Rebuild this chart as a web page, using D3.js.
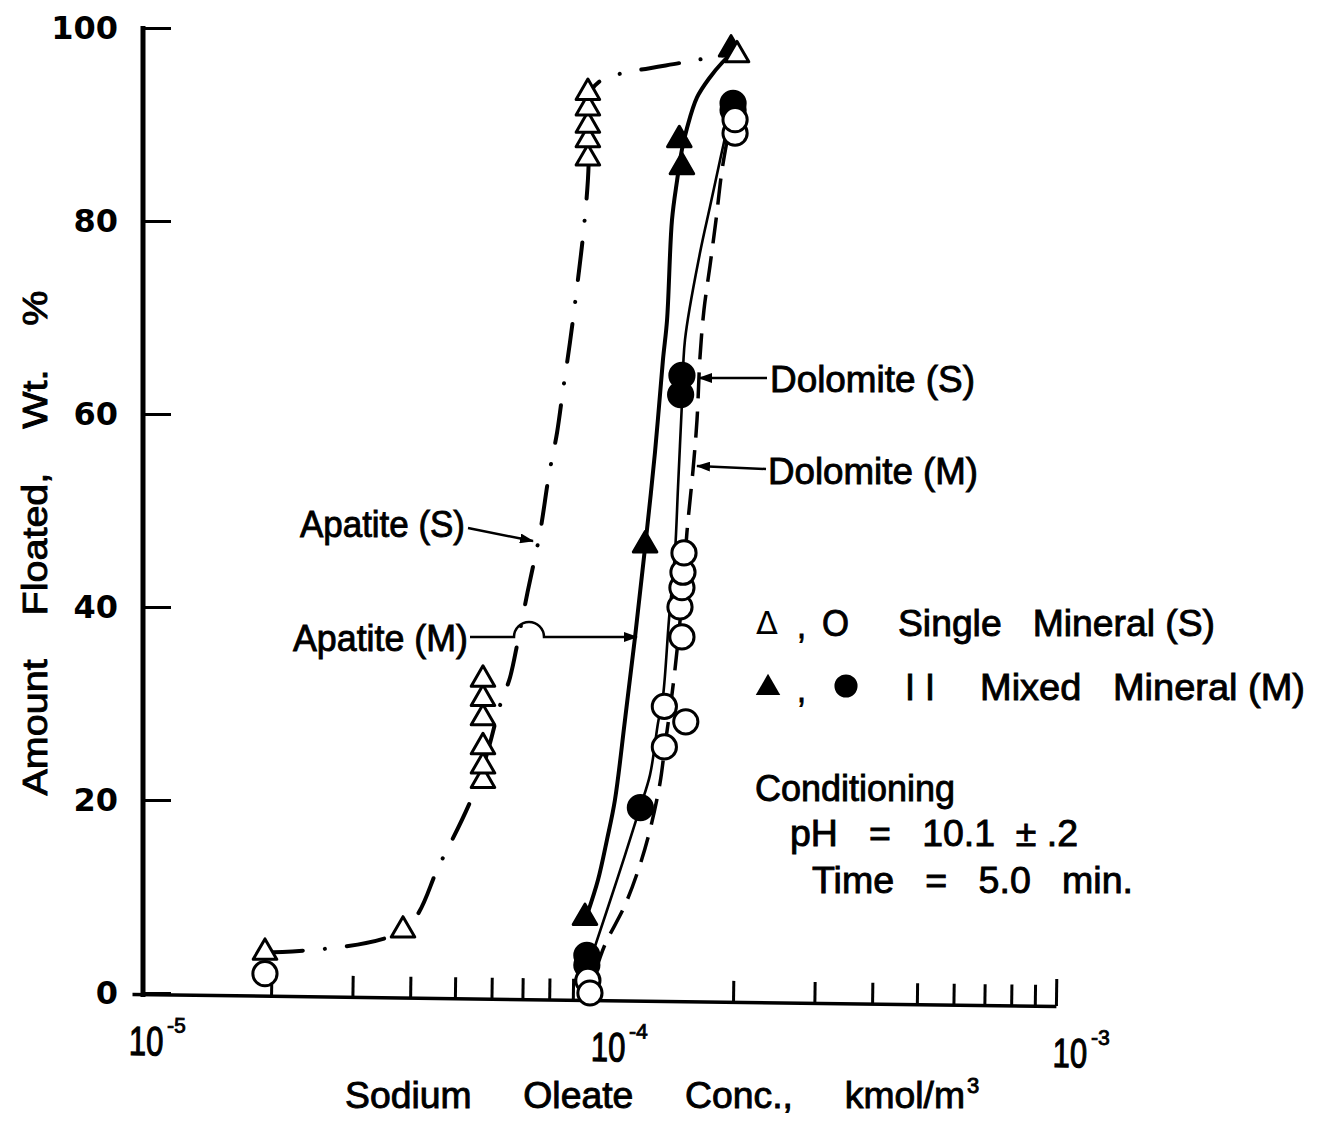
<!DOCTYPE html>
<html><head><meta charset="utf-8">
<script src="https://cdn.jsdelivr.net/npm/d3@7"></script>
<style>
body{margin:0;background:#fff;}
svg{display:block;background:#fff;}
.lbl{font-family:"Liberation Sans",Arial,sans-serif;font-weight:normal;white-space:pre;fill:#000;stroke:#000;stroke-width:0.9px;}
.num{font-family:"DejaVu Sans",sans-serif;font-weight:bold;fill:#000;}
</style></head><body>
<svg id="chart" width="1317" height="1124"></svg>
<script>
// ---------- axes ----------
const yTickValues = [0, 20, 40, 60, 80, 100];
const xMajorTicks = [1e-5, 1e-4, 1e-3];
const xMajorExponents = ["-5", "-4", "-3"];
const xMinorTicks = [2e-5,3e-5,4e-5,5e-5,6e-5,7e-5,8e-5,9e-5,2e-4,3e-4,4e-4,5e-4,6e-4,7e-4,8e-4,9e-4];

// ---------- measured points ----------
// Apatite, single mineral (open triangles)
const apatiteSConc  = [1.94e-5, 3.86e-5, 5.75e-5, 5.75e-5, 5.75e-5, 5.75e-5, 5.75e-5, 5.75e-5, 9.7e-5, 9.7e-5, 9.7e-5, 9.7e-5, 9.7e-5, 2.04e-4];
const apatiteSFloat = [4.2, 6.5, 22, 23.5, 25.5, 28.5, 30.5, 32.5, 86.5, 88.4, 89.9, 91.7, 93.3, 97.2];
// Apatite, mixed mineral (filled triangles)
const apatiteMConc  = [9.56e-5, 1.29e-4, 1.55e-4, 1.53e-4, 1.98e-4];
const apatiteMFloat = [7.8, 46.4, 85.6, 88.4, 97.8];
// Dolomite, single mineral (open circles)
const dolomiteSConc  = [1.94e-5, 9.7e-5, 9.8e-5, 1.42e-4, 1.58e-4, 1.42e-4, 1.55e-4, 1.535e-4, 1.55e-4, 1.558e-4, 1.566e-4, 2.02e-4, 2.02e-4];
const dolomiteSFloat = [2.0, 1.3, 0.0, 25.5, 28.1, 29.7, 36.9, 40.0, 42.0, 43.6, 45.6, 89.1, 90.5];
// Dolomite, mixed mineral (filled circles)
const dolomiteMConc  = [9.65e-5, 9.65e-5, 1.26e-4, 1.54e-4, 1.55e-4, 2.0e-4, 2.0e-4];
const dolomiteMFloat = [2.9, 3.9, 19.2, 62.0, 64.0, 91.5, 92.2];

// ---------- hand-drawn curves ----------
const apatiteSCurveConc  = [1.94e-5, 3.86e-5, 4.64e-5, 5.47e-5, 5.9e-5, 6.26e-5, 6.58e-5, 6.85e-5, 7.2e-5, 7.64e-5, 7.99e-5, 8.32e-5, 8.57e-5, 8.87e-5, 9.24e-5, 9.47e-5, 9.7e-5, 9.8e-5, 9.9e-5, 1.056e-4, 1.179e-4, 1.589e-4, 2.02e-4];
const apatiteSCurveFloat = [4.2, 6.5, 13.4, 20.5, 25.2, 29.8, 32.7, 36.6, 41.8, 47.7, 53.7, 58.1, 62.5, 67.4, 74.1, 78.5, 84.2, 90.5, 93.6, 94.8, 95.4, 96.5, 97.4];
const apatiteMCurveConc  = [9.66e-5, 1.02e-4, 1.067e-4, 1.11e-4, 1.167e-4, 1.227e-4, 1.29e-4, 1.355e-4, 1.41e-4, 1.439e-4, 1.475e-4, 1.513e-4, 1.55e-4, 1.589e-4, 1.671e-4, 1.783e-4, 1.893e-4, 2.0e-4];
const apatiteMCurveFloat = [8.1, 11.7, 15.9, 20.0, 28.3, 36.9, 46.2, 56.0, 65.6, 69.7, 80.1, 84.2, 87.4, 89.6, 92.8, 94.9, 96.4, 97.5];
const dolomiteMCurveConc  = [9.9e-5, 1.121e-4, 1.258e-4, 1.322e-4, 1.376e-4, 1.41e-4, 1.453e-4, 1.497e-4, 1.52e-4, 1.55e-4, 1.574e-4, 1.696e-4, 1.783e-4, 1.874e-4, 1.97e-4];
const dolomiteMCurveFloat = [3.9, 11.7, 19.2, 22.6, 28.0, 30.7, 38.7, 45.6, 52.4, 61.1, 67.7, 76.7, 81.5, 86.3, 91.0];
const dolomiteSCurveConc  = [1.01e-4, 1.056e-4, 1.167e-4, 1.258e-4, 1.322e-4, 1.39e-4, 1.425e-4, 1.46e-4, 1.497e-4, 1.55e-4, 1.589e-4, 1.638e-4, 1.671e-4, 1.696e-4, 1.73e-4, 1.783e-4, 1.837e-4, 1.893e-4, 1.96e-4];
const dolomiteSCurveFloat = [2.4, 5.0, 9.1, 13.3, 16.9, 21.8, 25.7, 29.3, 33.5, 40.7, 47.7, 54.2, 59.4, 65.9, 70.8, 75.4, 80.1, 85.3, 89.4];

// ---------- scales ----------
const x = d3.scaleLog().domain([1e-5, 1e-3]).range([132, 1056]);
const y = d3.scaleLinear().domain([0, 100]).range([993, 28]);
const svg = d3.select('#chart');

svg.append('defs').append('marker')
  .attr('id','ah').attr('viewBox','0 0 14 10').attr('refX',13).attr('refY',5)
  .attr('markerWidth',14).attr('markerHeight',10).attr('markerUnits','userSpaceOnUse').attr('orient','auto')
  .append('path').attr('d','M0,0L14,5L0,10Z').attr('fill','#000');

function fitText(sel, w){ return sel.attr('textLength', w).attr('lengthAdjust','spacingAndGlyphs'); }

// ---------- y axis ----------
const gy = svg.append('g').attr('transform','translate(143,0)')
  .call(d3.axisLeft(y).tickValues(yTickValues).tickSizeInner(-28).tickSizeOuter(0).tickPadding(25).tickFormat(d3.format('d')));
gy.select('.domain').remove();
gy.append('line').attr('x1',0).attr('x2',0).attr('y1',y(100)-2).attr('y2',997).attr('stroke','#000').attr('stroke-width',5);
gy.selectAll('.tick line').attr('stroke','#000').attr('stroke-width',3);
gy.selectAll('.tick text').attr('class','num').attr('font-size',32).attr('font-family',null).attr('fill','#000');

// ---------- x axis ----------
const gx = svg.append('g').attr('transform','translate(0,994) rotate(0.75 132 0)')
  .call(d3.axisBottom(x).tickValues(xMajorTicks.concat(xMinorTicks)).tickSizeInner(-21).tickSizeOuter(0).tickFormat(''));
gx.select('.domain').attr('stroke','#000').attr('stroke-width',3.5);
gx.selectAll('.tick text').remove();
gx.selectAll('.tick line').attr('stroke','#000').attr('stroke-width',3)
  .filter(d => d === 1e-5).attr('stroke','none');
gx.selectAll('.tick line').filter(d => d === 1e-3).attr('y2',-27);
const majors = gx.selectAll('.tick').filter(d => xMajorTicks.includes(d));
majors.append('text').attr('class','lbl').attr('text-anchor','start').attr('font-size',31)
  .attr('transform','translate(-3,61) scale(1,1.32)').text('10');
majors.append('text').attr('class','lbl').attr('text-anchor','start').attr('font-size',21)
  .attr('x',35).attr('y',38)
  .text(d => xMajorExponents[xMajorTicks.indexOf(d)]);

// ---------- axis titles ----------
fitText(svg.append('text').attr('class','lbl').attr('xml:space','preserve').attr('font-size',35)
  .attr('transform','translate(47,543) rotate(-90)').attr('text-anchor','middle')
  .text('Amount    Floated,    Wt.    %'), 505);
fitText(svg.append('text').attr('class','lbl').attr('xml:space','preserve').attr('font-size',36)
  .attr('x',345).attr('y',1108).text('Sodium     Oleate     Conc.,     kmol/m'), 620);
svg.append('text').attr('class','lbl').attr('font-size',22).attr('x',967).attr('y',1093).text('3');

// ---------- curves ----------
const line = d3.line().x(d => x(d[0])).y(d => y(d[1])).curve(d3.curveCatmullRom.alpha(0.5));
svg.append('path').datum(d3.zip(apatiteSCurveConc, apatiteSCurveFloat)).attr('d', line)
  .attr('fill','none').attr('stroke','#000').attr('stroke-width',4).attr('stroke-linecap','round')
  .attr('stroke-dasharray','38 22 0.1 22');
svg.append('path').datum(d3.zip(apatiteMCurveConc, apatiteMCurveFloat)).attr('d', line)
  .attr('fill','none').attr('stroke','#000').attr('stroke-width',4);
svg.append('path').datum(d3.zip(dolomiteMCurveConc, dolomiteMCurveFloat)).attr('d', line)
  .attr('fill','none').attr('stroke','#000').attr('stroke-width',2.6);
svg.append('path').datum(d3.zip(dolomiteSCurveConc, dolomiteSCurveFloat)).attr('d', line)
  .attr('fill','none').attr('stroke','#000').attr('stroke-width',3.5).attr('stroke-dasharray','26 13');

// ---------- markers ----------
const tri = d3.symbol().type(d3.symbolTriangle).size(240)();
const circ = d3.symbol().type(d3.symbolCircle).size(460)();
function drawPts(cx, cy, path, fill){
  svg.append('g').selectAll('path').data(d3.zip(cx, cy)).join('path')
    .attr('d', path).attr('transform', d => `translate(${x(d[0])},${y(d[1])})`)
    .attr('fill', fill).attr('stroke','#000').attr('stroke-width',3).attr('stroke-linejoin','round');
}
drawPts(apatiteMConc, apatiteMFloat, tri, '#000');
drawPts(apatiteSConc, apatiteSFloat, tri, '#fff');
drawPts(dolomiteMConc, dolomiteMFloat, circ, '#000');
drawPts(dolomiteSConc, dolomiteSFloat, circ, '#fff');

// ---------- annotations ----------
function label(txt, x0, yb, w){
  return fitText(svg.append('text').attr('class','lbl').attr('xml:space','preserve').attr('font-size',37)
    .attr('x',x0).attr('y',yb).text(txt), w);
}
function arrow(d){
  svg.append('path').attr('d', d).attr('fill','none').attr('stroke','#000').attr('stroke-width',2.5).attr('marker-end','url(#ah)');
}
label('Apatite (S)', 300, 537, 165);
arrow('M468,528 L533,541');
label('Apatite (M)', 293, 651, 175);
arrow('M470,637 H514 A15,15 0 0 1 544,637 H637');
label('Dolomite (S)', 770, 392, 205);
arrow('M767,378 H699');
label('Dolomite (M)', 768, 484, 210);
arrow('M766,469 L697,466');

// legend
svg.append('text').attr('font-family','DejaVu Sans').attr('font-size',32).attr('x',756).attr('y',634).text('Δ');
label(',', 797, 638, 9);
label('O', 822, 636, 27);
label('Single   Mineral (S)', 898, 636, 317);
svg.append('path').attr('d', d3.symbol().type(d3.symbolTriangle).size(260)()).attr('transform','translate(768,688)').attr('fill','#000');
label(',', 797, 702, 9);
svg.append('path').attr('d', d3.symbol().type(d3.symbolCircle).size(420)()).attr('transform','translate(846,686)').attr('fill','#000');
label('I I', 905, 700, 30);
label('Mixed   Mineral (M)', 980, 700, 325);

label('Conditioning', 755, 801, 200);
label('pH   =   10.1  ± .2', 790, 846, 288);
label('Time   =   5.0   min.', 812, 893, 321);
</script>
</body></html>
